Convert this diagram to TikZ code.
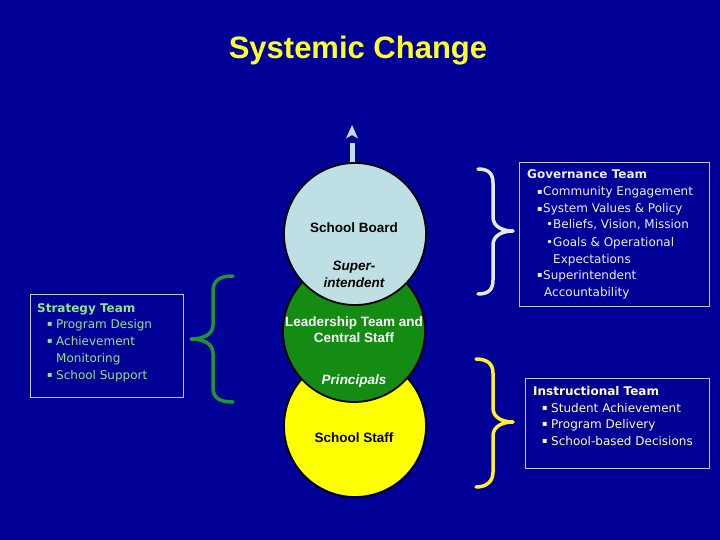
\documentclass[tikz,border=0pt]{standalone}
\usepackage{fontspec}
\setmainfont{Liberation Sans}
\newfontfamily\boxfont{DejaVu Sans}
\usetikzlibrary{arrows.meta}
\definecolor{bg}{RGB}{0,0,150}
\definecolor{titley}{RGB}{255,255,40}
\definecolor{boardc}{RGB}{190,224,228}
\definecolor{leadc}{RGB}{20,140,20}
\definecolor{staffc}{RGB}{255,255,0}
\definecolor{arrowc}{RGB}{190,225,240}
\definecolor{stratc}{RGB}{140,230,140}
\definecolor{govc}{RGB}{235,238,255}
\definecolor{instc}{RGB}{255,255,190}
\definecolor{boxline}{RGB}{200,200,230}
\definecolor{gbrace}{RGB}{30,150,50}
\definecolor{wbrace}{RGB}{225,235,245}
\definecolor{ybrace}{RGB}{255,240,40}
\newcommand{\sqb}{{\fontsize{8}{10}\selectfont\raisebox{1.6pt}{▪}}}
\begin{document}
\begin{tikzpicture}[x=1pt,y=-1pt,
  ring/.style={circle,draw=black,line width=1.8pt,minimum size=142pt,inner sep=0pt},
  clabel/.style={anchor=base,inner sep=0pt,font=\fontsize{13.5}{15}\selectfont\bfseries},
  bt/.style={anchor=base west,inner sep=0pt,font=\boxfont\fontsize{12}{14}\selectfont},
  bbold/.style={bt,font=\boxfont\fontsize{12}{14}\selectfont\bfseries},
  teambox/.style={draw=boxline,line width=0.8pt,inner sep=0pt},
  bracepath/.style={line width=3.5pt,line cap=round,line join=round}]
\fill[bg] (0,0) rectangle (720,540);
\useasboundingbox (0,0) rectangle (720,540);

\node[anchor=base,inner sep=0pt,text=titley,font=\fontsize{31}{35}\selectfont\bfseries] (title) at (358,59) {Systemic Change};

% circles
\node[ring,fill=staffc] (staff) at (355,426) {};
\node[ring,fill=leadc] (lead) at (354,331) {};
\coordinate (aw) at (352,143);
\coordinate (tip) at (352,125);
\draw[arrowc,line width=5pt] (aw) -- (aw |- 0,164);
\fill[arrowc] (tip) -- ++(6,13.5) -- ++(-6,-3.5) -- ++(-6,3.5) -- cycle;
\node[ring,fill=boardc] (board) at (355,234) {};

\node[clabel] (lb1) at (354,233) {School Board};
\node[clabel,font=\fontsize{13.5}{15}\selectfont\bfseries\itshape] (lb2) at (354,270) {Super-};
\node[clabel,font=\fontsize{13.5}{15}\selectfont\bfseries\itshape] (lb3) at (354,287) {intendent};
\node[clabel,text=white] (ll1) at (354,326) {Leadership Team and};
\node[clabel,text=white] (ll2) at (354,342) {Central Staff};
\node[clabel,text=white,font=\fontsize{13.5}{15}\selectfont\bfseries\itshape] (ll3) at (354,384) {Principals};
\node[clabel] (ls1) at (354,442) {School Staff};

% Strategy box
\draw[teambox] (30,294) rectangle (183,397);
\node[bbold,text=stratc] (s0) at (37,312) {Strategy Team};
\node[bt,text=stratc] (s1b) at (47,328) {\sqb};
\node[bt,text=stratc] (s1) at (56,328) {Program Design};
\node[bt,text=stratc] (s2b) at (47,345) {\sqb};
\node[bt,text=stratc] (s2) at (56,345) {Achievement};
\node[bt,text=stratc] (s3) at (56,362) {Monitoring};
\node[bt,text=stratc] (s4b) at (47,379) {\sqb};
\node[bt,text=stratc] (s4) at (56,379) {School Support};

% Governance box
\draw[teambox] (519,162) rectangle (709,306);
\node[bbold,text=govc] (g0) at (527,179) {Governance Team};
\node[bt,text=govc] (g1b) at (537,196) {\sqb};
\node[bt,text=govc] (g1) at (543,196) {Community Engagement};
\node[bt,text=govc] (g2b) at (537,213) {\sqb};
\node[bt,text=govc] (g2) at (543,213) {System Values \& Policy};
\node[bt,text=govc] (g3b) at (546,229) {•};
\node[bt,text=govc] (g3) at (553,229) {Beliefs, Vision, Mission};
\node[bt,text=govc] (g4b) at (546,246) {•};
\node[bt,text=govc] (g4) at (553,246) {Goals \& Operational};
\node[bt,text=govc] (g5) at (553,263) {Expectations};
\node[bt,text=govc] (g6b) at (537,279) {\sqb};
\node[bt,text=govc] (g6) at (543,279) {Superintendent};
\node[bt,text=govc] (g7) at (544,296) {Accountability};

% Instructional box
\draw[teambox] (525,378) rectangle (709,468);
\node[bbold,text=instc] (i0) at (533,395) {Instructional Team};
\node[bt,text=instc] (i1b) at (542,412) {\sqb};
\node[bt,text=instc] (i1) at (551,412) {Student Achievement};
\node[bt,text=instc] (i2b) at (542,428) {\sqb};
\node[bt,text=instc] (i2) at (551,428) {Program Delivery};
\node[bt,text=instc] (i3b) at (542,445) {\sqb};
\node[bt,text=instc] (i3) at (551,445) {School-based Decisions};

% braces
\draw[bracepath,gbrace] (233,276) .. controls (220,276) and (213,280) .. (213,292) -- (213,325)
  .. controls (213,335) and (202,339) .. (191,339)
  .. controls (202,339) and (213,343) .. (213,353) -- (213,388)
  .. controls (213,398) and (220,402) .. (233,402);
\draw[bracepath,wbrace] (478,169) .. controls (488,169) and (493,173) .. (493,183) -- (493,217)
  .. controls (493,227) and (503,231) .. (513,231)
  .. controls (503,231) and (493,235) .. (493,245) -- (493,280)
  .. controls (493,290) and (488,294) .. (478,294);
\draw[bracepath,ybrace] (476,359) .. controls (486,359) and (493,363) .. (493,373) -- (493,408)
  .. controls (493,418) and (503,422) .. (513,422)
  .. controls (503,422) and (493,426) .. (493,436) -- (493,472)
  .. controls (493,482) and (486,487) .. (476,487);
\end{tikzpicture}
\end{document}
